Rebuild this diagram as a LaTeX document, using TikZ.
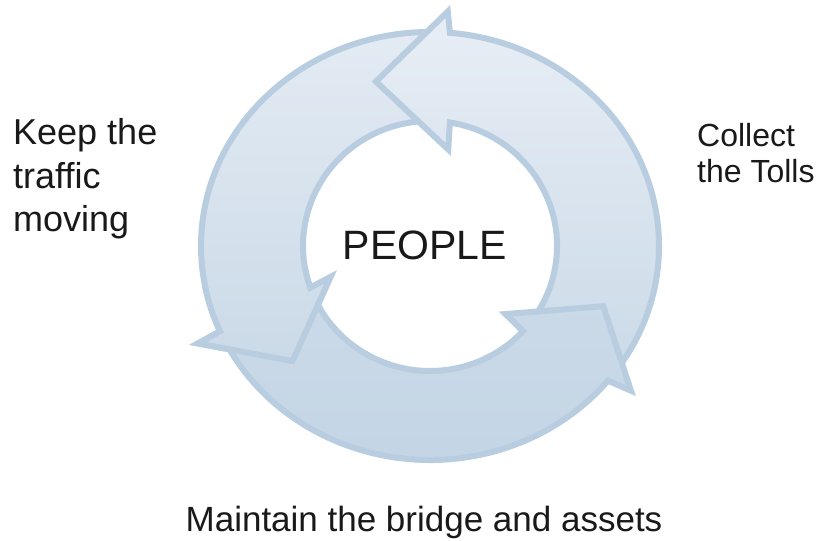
\documentclass[tikz,border=0pt]{standalone}
\usepackage{fontspec}
\setmainfont{Liberation Sans}
\usepackage{xcolor}
\usepackage{tikz}
\usetikzlibrary{positioning}
\definecolor{ringline}{HTML}{B9CDE1}
\definecolor{ringtop}{HTML}{E8EEF5}
\definecolor{ringmid}{HTML}{CBDAE8}
\definecolor{ringlow}{HTML}{C2D4E5}
\tikzstyle{ring} = [draw=ringline, line width=6pt, line join=miter]
\tikzstyle{toparrow} = [ring, top color=ringtop, bottom color=ringmid]
\tikzstyle{leftarrow} = [ring, top color=ringtop!85!ringmid, bottom color=ringmid]
\tikzstyle{lowarrow} = [ring, top color=ringmid, bottom color=ringlow]
\tikzstyle{label} = [inner sep=0pt, align=left, text=black!90]
% curved arrow of the ring: #1 tail angle, #2 head base angle, #3 tip angle
\newcommand{\cyclepath}[3]{(#1:229 and 214) arc[start angle=#1, end angle=#2+2, x radius=229, y radius=214]
  -- (#2+3:255 and 235) -- (#3:185 and 172) -- (#2-3:105 and 98)
  -- (#2-2:127 and 125) arc[start angle=#2-2, end angle=#1, x radius=127, y radius=125] -- cycle}

\begin{document}
\begin{tikzpicture}[x=1pt, y=1pt]
        \useasboundingbox (0,0) rectangle (823,541);
        \begin{scope}[shift={(430,295)}]
            \path[leftarrow] \cyclepath{87}{201.5}{222};
            \path[toparrow] \cyclepath{-37}{83}{107};
            \path[lowarrow] \cyclepath{205.5}{319}{339.5};
            % head of the left arrow goes over the tail of the lower one
            \begin{scope}
                \clip (0,0) -- (190:320) arc[start angle=190, end angle=240, radius=320] -- cycle;
                \path[leftarrow] \cyclepath{87}{201.5}{222};
            \end{scope}
        \end{scope}
        \node[label, font=\fontsize{41}{48}\selectfont, anchor=base] (people) at (425,281) {PEOPLE};
        \node[label, font=\fontsize{36}{43.5}\selectfont, anchor=base west] (keep) at (13,309) {Keep the\\traffic\\moving};
        \node[label, font=\fontsize{32}{36}\selectfont, anchor=base west] (collect) at (697,358) {Collect\\the Tolls};
        \node[label, font=\fontsize{35}{42}\selectfont, anchor=base] (maintain) at (424,9) {Maintain the bridge and assets};
    \end{tikzpicture}
\end{document}
